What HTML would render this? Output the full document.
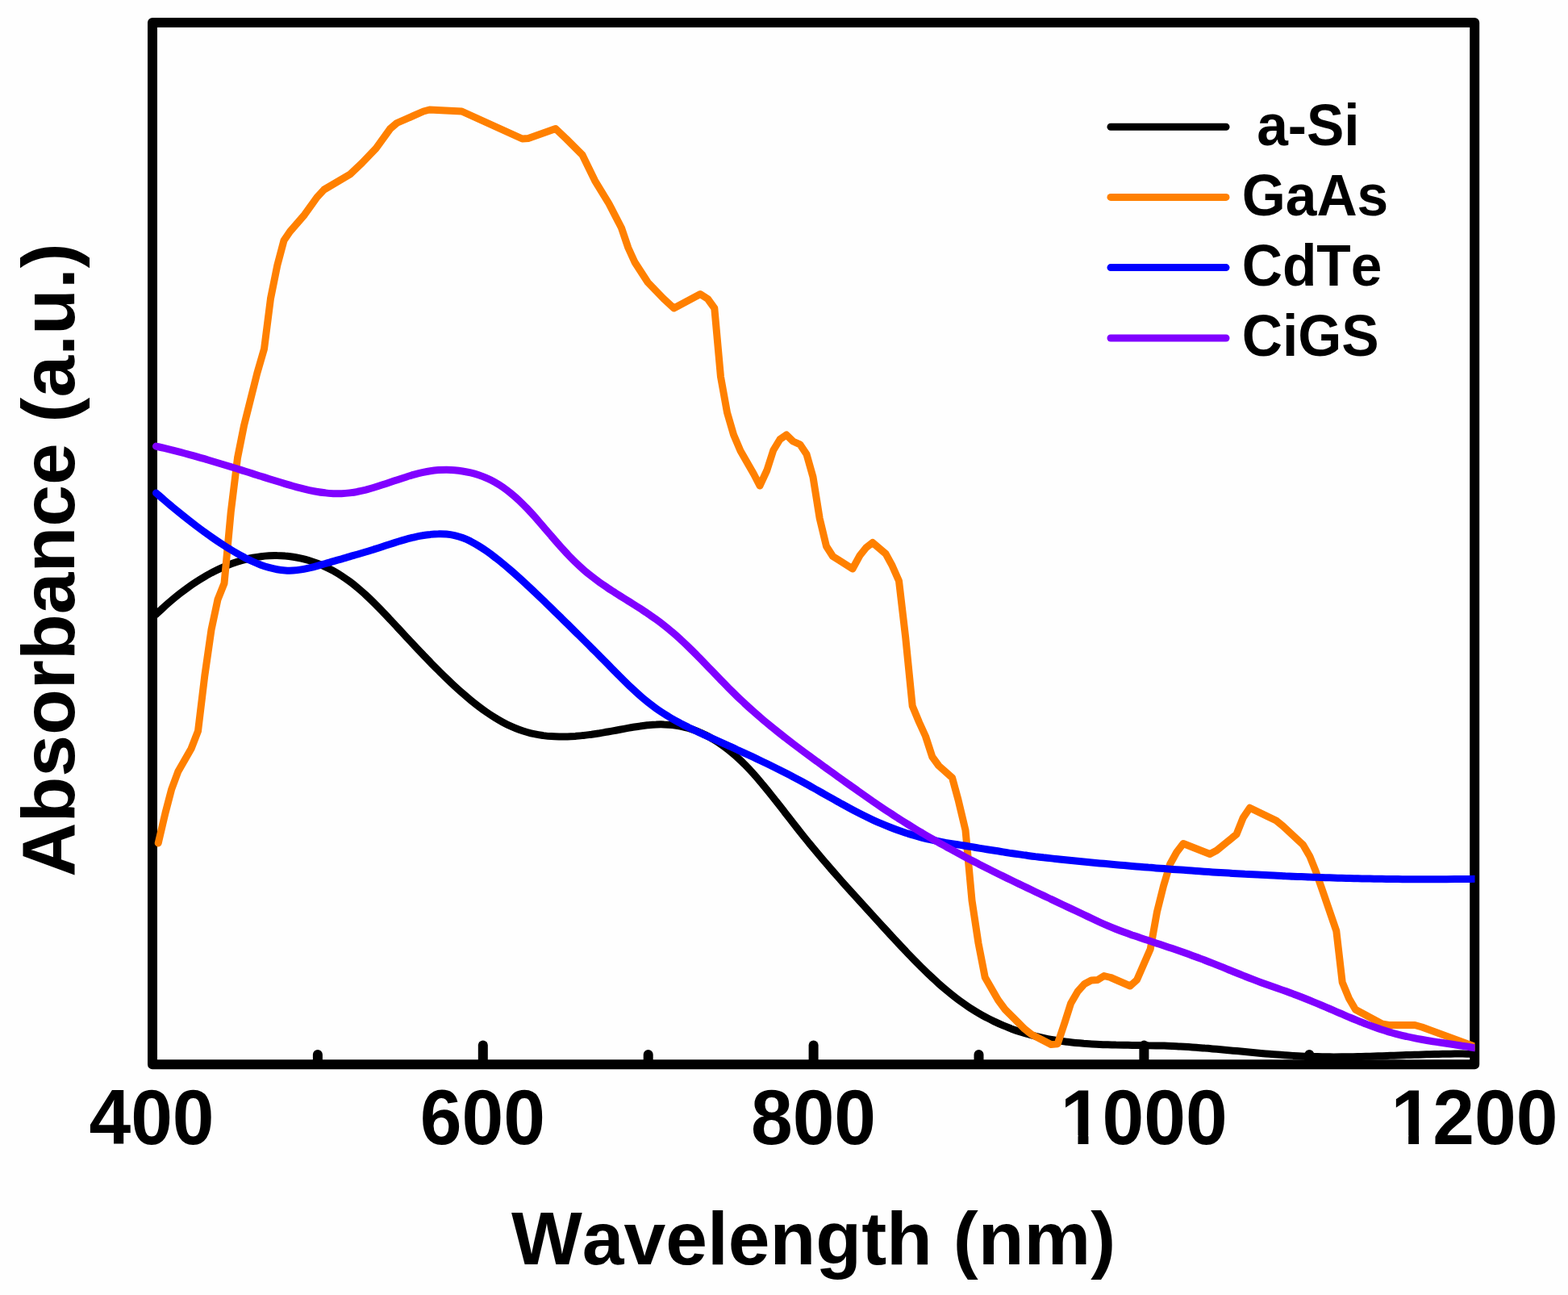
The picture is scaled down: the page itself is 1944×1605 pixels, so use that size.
<!DOCTYPE html>
<html lang="en">
<head>
<meta charset="utf-8">
<title>Absorbance vs Wavelength</title>
<style>
html,body{margin:0;padding:0;background:#fefefe;}
body{width:1944px;height:1605px;overflow:hidden;}
svg{display:block;position:absolute;left:0;top:0;}
text{font-family:"Liberation Sans",Arial,Helvetica,sans-serif;font-weight:700;fill:#000;font-kerning:none;}
.tick{font-size:93px;text-anchor:middle;}
.axis{font-size:93px;text-anchor:middle;}
.leg{font-size:69.5px;text-anchor:start;}
.curve{fill:none;stroke-width:9;stroke-linejoin:round;stroke-linecap:round;}
</style>
</head>
<body>
<svg width="1944" height="1605" viewBox="0 0 1944 1605">
<defs><clipPath id="plotclip"><rect x="169" y="28" width="1659.5" height="1291.2"/></clipPath></defs>
<rect x="0" y="0" width="1944" height="1605" fill="#fefefe"/>
<rect x="189" y="28" width="1639.2" height="1291.2" fill="none" stroke="#000" stroke-width="12" stroke-linejoin="round"/>
<g stroke="#000" stroke-width="12" stroke-linecap="round">
<line x1="598.8" y1="1316.2" x2="598.8" y2="1295.5"/>
<line x1="1008.6" y1="1316.2" x2="1008.6" y2="1295.5"/>
<line x1="1418.4" y1="1316.2" x2="1418.4" y2="1295.5"/>
<line x1="393.9" y1="1316.2" x2="393.9" y2="1307"/>
<line x1="803.7" y1="1316.2" x2="803.7" y2="1307"/>
<line x1="1213.5" y1="1316.2" x2="1213.5" y2="1307"/>
<line x1="1623.3" y1="1316.2" x2="1623.3" y2="1307"/>
</g>
<g clip-path="url(#plotclip)">
<path class="curve" stroke="#000000" d="M193.5 761.4 C195.2 759.8 200.2 755.1 203.5 752.1 C206.8 749.1 210.2 746.2 213.5 743.4 C216.8 740.6 220.2 737.9 223.5 735.3 C226.8 732.7 230.2 730.2 233.5 727.8 C236.8 725.4 240.2 723.1 243.5 721 C246.8 718.8 250.2 716.7 253.5 714.8 C256.8 712.8 260.2 711 263.5 709.2 C266.8 707.5 270.2 705.8 273.5 704.3 C276.8 702.8 280.2 701.4 283.5 700.1 C286.8 698.8 290.2 697.6 293.5 696.5 C296.8 695.4 300.2 694.4 303.5 693.6 C306.8 692.7 310.2 691.9 313.5 691.3 C316.8 690.7 320.2 690.1 323.5 689.7 C326.8 689.3 330.2 689 333.5 688.8 C336.8 688.6 340.2 688.5 343.5 688.6 C346.8 688.6 350.2 688.8 353.5 689.1 C356.8 689.3 360.2 689.7 363.5 690.2 C366.8 690.7 370.2 691.4 373.5 692.1 C376.8 692.9 380.2 693.8 383.5 694.8 C386.8 695.8 390.2 697 393.5 698.3 C396.8 699.6 400.2 701 403.5 702.6 C406.8 704.1 410.2 705.8 413.5 707.7 C416.8 709.6 420.2 711.6 423.5 713.7 C426.8 715.9 430.2 718.2 433.5 720.7 C436.8 723.2 440.2 725.8 443.5 728.6 C446.8 731.4 450.2 734.3 453.5 737.4 C456.8 740.5 460.2 743.7 463.5 747 C466.8 750.3 470.2 753.7 473.5 757.1 C476.8 760.6 480.2 764.1 483.5 767.7 C486.8 771.2 490.2 774.8 493.5 778.4 C496.8 782 500.2 785.6 503.5 789.2 C506.8 792.7 510.2 796.3 513.5 799.8 C516.8 803.4 520.2 806.9 523.5 810.4 C526.8 813.9 530.2 817.4 533.5 820.8 C536.8 824.2 540.2 827.6 543.5 830.9 C546.8 834.3 550.2 837.6 553.5 840.8 C556.8 844 560.2 847.1 563.5 850.2 C566.8 853.3 570.2 856.3 573.5 859.2 C576.8 862.1 580.2 865 583.5 867.7 C586.8 870.4 590.2 873.1 593.5 875.6 C596.8 878.1 600.2 880.6 603.5 882.9 C606.8 885.2 610.2 887.4 613.5 889.4 C616.8 891.5 620.2 893.4 623.5 895.2 C626.8 897 630.2 898.7 633.5 900.2 C636.8 901.7 640.2 903.1 643.5 904.3 C646.8 905.5 650.2 906.6 653.5 907.5 C656.8 908.5 660.2 909.3 663.5 909.9 C666.8 910.6 670.2 911.1 673.5 911.6 C676.8 912 680.2 912.4 683.5 912.6 C686.8 912.8 690.2 912.9 693.5 913 C696.8 913.1 700.2 913 703.5 912.9 C706.8 912.8 710.2 912.6 713.5 912.4 C716.8 912.1 720.2 911.8 723.5 911.4 C726.8 911.1 730.2 910.6 733.5 910.2 C736.8 909.7 740.2 909.2 743.5 908.7 C746.8 908.1 750.2 907.6 753.5 907 C756.8 906.4 760.2 905.8 763.5 905.2 C766.8 904.6 770.2 903.9 773.5 903.3 C776.8 902.7 780.2 902.1 783.5 901.5 C786.8 901 790.2 900.4 793.5 900 C796.8 899.5 800.2 899.1 803.5 898.7 C806.8 898.4 810.2 898.1 813.5 898 C816.8 897.8 820.2 897.8 823.5 897.9 C826.8 897.9 830.2 898.1 833.5 898.5 C836.8 898.9 840.2 899.4 843.5 900 C846.8 900.7 850.2 901.5 853.5 902.5 C856.8 903.5 860.2 904.6 863.5 905.9 C866.8 907.3 870.2 908.7 873.5 910.4 C876.8 912 880.2 913.8 883.5 915.8 C886.8 917.7 890.2 919.9 893.5 922.2 C896.8 924.5 900.2 927 903.5 929.6 C906.8 932.3 910.2 935.1 913.5 938.1 C916.8 941.2 920.2 944.3 923.5 947.7 C926.8 951.1 930.2 954.7 933.5 958.3 C936.8 962 940.2 965.9 943.5 969.8 C946.8 973.8 950.2 977.8 953.5 982 C956.8 986.1 960.2 990.3 963.5 994.6 C966.8 998.8 970.2 1003.1 973.5 1007.4 C976.8 1011.7 980.2 1016 983.5 1020.3 C986.8 1024.5 990.2 1028.8 993.5 1033 C996.8 1037.2 1000.2 1041.3 1003.5 1045.4 C1006.8 1049.4 1010.2 1053.4 1013.5 1057.4 C1016.8 1061.4 1020.2 1065.3 1023.5 1069.2 C1026.8 1073.1 1030.2 1076.9 1033.5 1080.7 C1036.8 1084.5 1040.2 1088.3 1043.5 1092.1 C1046.8 1095.8 1050.2 1099.5 1053.5 1103.2 C1056.8 1106.9 1060.2 1110.6 1063.5 1114.3 C1066.8 1118 1070.2 1121.6 1073.5 1125.3 C1076.8 1128.9 1080.2 1132.6 1083.5 1136.2 C1086.8 1139.9 1090.2 1143.5 1093.5 1147.2 C1096.8 1150.8 1100.2 1154.5 1103.5 1158.1 C1106.8 1161.7 1110.2 1165.3 1113.5 1168.9 C1116.8 1172.5 1120.2 1176 1123.5 1179.5 C1126.8 1183 1130.2 1186.5 1133.5 1189.9 C1136.8 1193.3 1140.2 1196.6 1143.5 1199.9 C1146.8 1203.2 1150.2 1206.4 1153.5 1209.6 C1156.8 1212.7 1160.2 1215.8 1163.5 1218.8 C1166.8 1221.7 1170.2 1224.6 1173.5 1227.4 C1176.8 1230.2 1180.2 1232.9 1183.5 1235.5 C1186.8 1238.1 1190.2 1240.6 1193.5 1242.9 C1196.8 1245.3 1200.2 1247.5 1203.5 1249.7 C1206.8 1251.8 1210.2 1253.9 1213.5 1255.8 C1216.8 1257.8 1220.2 1259.6 1223.5 1261.4 C1226.8 1263.2 1230.2 1264.8 1233.5 1266.4 C1236.8 1268 1240.2 1269.5 1243.5 1270.9 C1246.8 1272.3 1250.2 1273.6 1253.5 1274.9 C1256.8 1276.1 1260.2 1277.3 1263.5 1278.4 C1266.8 1279.5 1270.2 1280.5 1273.5 1281.5 C1276.8 1282.4 1280.2 1283.3 1283.5 1284.1 C1286.8 1284.9 1290.2 1285.7 1293.5 1286.4 C1296.8 1287.1 1300.2 1287.8 1303.5 1288.4 C1306.8 1289 1310.2 1289.5 1313.5 1290 C1316.8 1290.5 1320.2 1290.9 1323.5 1291.3 C1326.8 1291.7 1330.2 1292.1 1333.5 1292.4 C1336.8 1292.7 1340.2 1293 1343.5 1293.3 C1346.8 1293.5 1350.2 1293.8 1353.5 1293.9 C1356.8 1294.1 1360.2 1294.3 1363.5 1294.4 C1366.8 1294.6 1370.2 1294.7 1373.5 1294.8 C1376.8 1294.9 1380.2 1295 1383.5 1295.1 C1386.8 1295.1 1390.2 1295.2 1393.5 1295.3 C1396.8 1295.3 1400.2 1295.4 1403.5 1295.4 C1406.8 1295.5 1410.2 1295.5 1413.5 1295.5 C1416.8 1295.6 1420.2 1295.6 1423.5 1295.7 C1426.8 1295.7 1430.2 1295.8 1433.5 1295.9 C1436.8 1296 1440.2 1296 1443.5 1296.1 C1446.8 1296.3 1450.2 1296.4 1453.5 1296.5 C1456.8 1296.7 1460.2 1296.8 1463.5 1297 C1466.8 1297.2 1470.2 1297.4 1473.5 1297.6 C1476.8 1297.8 1480.2 1298.1 1483.5 1298.3 C1486.8 1298.6 1490.2 1298.8 1493.5 1299.1 C1496.8 1299.3 1500.2 1299.6 1503.5 1299.9 C1506.8 1300.2 1510.2 1300.5 1513.5 1300.8 C1516.8 1301.1 1520.2 1301.4 1523.5 1301.7 C1526.8 1302 1530.2 1302.3 1533.5 1302.6 C1536.8 1302.9 1540.2 1303.3 1543.5 1303.6 C1546.8 1303.9 1550.2 1304.2 1553.5 1304.5 C1556.8 1304.8 1560.2 1305.1 1563.5 1305.4 C1566.8 1305.7 1570.2 1306 1573.5 1306.2 C1576.8 1306.5 1580.2 1306.8 1583.5 1307 C1586.8 1307.3 1590.2 1307.5 1593.5 1307.7 C1596.8 1308 1600.2 1308.2 1603.5 1308.4 C1606.8 1308.6 1610.2 1308.8 1613.5 1308.9 C1616.8 1309.1 1620.2 1309.2 1623.5 1309.3 C1626.8 1309.5 1630.2 1309.5 1633.5 1309.6 C1636.8 1309.7 1640.2 1309.8 1643.5 1309.8 C1646.8 1309.8 1650.2 1309.9 1653.5 1309.9 C1656.8 1309.9 1660.2 1309.9 1663.5 1309.8 C1666.8 1309.8 1670.2 1309.8 1673.5 1309.7 C1676.8 1309.7 1680.2 1309.6 1683.5 1309.5 C1686.8 1309.5 1690.2 1309.4 1693.5 1309.3 C1696.8 1309.2 1700.2 1309.1 1703.5 1309 C1706.8 1308.9 1710.2 1308.8 1713.5 1308.7 C1716.8 1308.6 1720.2 1308.5 1723.5 1308.3 C1726.8 1308.2 1730.2 1308.1 1733.5 1308 C1736.8 1307.9 1740.2 1307.8 1743.5 1307.6 C1746.8 1307.5 1750.2 1307.4 1753.5 1307.3 C1756.8 1307.2 1760.2 1307.1 1763.5 1307 C1766.8 1306.9 1770.2 1306.8 1773.5 1306.7 C1776.8 1306.6 1780.2 1306.5 1783.5 1306.4 C1786.8 1306.4 1790.2 1306.3 1793.5 1306.3 C1796.8 1306.2 1800.2 1306.2 1803.5 1306.1 C1806.8 1306.1 1810.2 1306.1 1813.5 1306.1 C1816.8 1306.1 1820.2 1306.2 1823.5 1306.2 C1826.8 1306.2 1831.8 1306.3 1833.5 1306.4"/>
<path class="curve" stroke="#ff8000" stroke-linecap="round" d="M196.2 1045 L205 1007.5 L212.5 978.8 L220.8 956.2 L237 928 L245.5 906.2 L253.8 837.5 L262 780.5 L270 743 L278 723 L286.2 635 L294.5 567.5 L302.5 527.5 L318.8 462.5 L327.5 432.5 L335.5 370 L343.8 328.8 L352 298 L359.5 287 L377.5 266.2 L393 244.5 L401.8 235 L433.8 216.2 L448.8 202 L466.2 183.8 L483.8 159.5 L492 152.5 L525 138 L532.5 136 L572.5 138 L647.5 172 L655 171.5 L688.8 159.5 L702.5 172.5 L722 192 L737.5 223.8 L755 252.5 L770.5 282.5 L778.8 307 L787 325 L803.2 350 L822.5 370 L835.5 382 L868.2 364.5 L877.5 370.5 L885.8 382 L893.5 467 L901.5 511.2 L909.5 538.8 L918 558.8 L934.5 587.5 L942 602 L950.8 583 L958.8 558 L967 544.5 L975 539 L983.2 547 L991.8 550.8 L1000 563 L1008 591.2 L1016.2 642.5 L1024.5 677 L1032.5 689.5 L1040.5 694.5 L1057 705 L1065.8 688.8 L1073.8 678.8 L1081.8 672.5 L1098 686.2 L1106.2 701.2 L1114.5 720 L1122.7 790 L1131.2 875 L1139.5 895 L1147.5 912.5 L1155.8 938 L1163.8 949 L1180.5 963.8 L1188 991.2 L1197 1029 L1205 1116 L1213 1169 L1221.2 1211.2 L1237.5 1239.5 L1246.2 1251.2 L1262.5 1267.5 L1270 1275 L1278.8 1282 L1303 1294.5 L1311.2 1293.8 L1320 1267.5 L1327.5 1243.8 L1336.2 1228.8 L1344.5 1219.5 L1353 1215 L1360.8 1214.5 L1368.8 1209.5 L1377 1211.5 L1401.2 1222 L1409.5 1214.5 L1426.2 1176.2 L1434.5 1130 L1442.5 1098 L1450.5 1071.2 L1458.8 1056.2 L1467 1045.5 L1500 1058.5 L1508.5 1054 L1533 1034 L1541.2 1013.5 L1549.5 1001.2 L1582.2 1017 L1590.5 1023.8 L1615.5 1047 L1623.8 1061.2 L1631.8 1081.2 L1640.5 1106.2 L1656.8 1153.8 L1664.2 1217.5 L1672.5 1237.5 L1680.5 1251.2 L1713 1268.8 L1721.8 1270.5 L1754.2 1270.5 L1763 1273 L1830 1297.7"/>
<path class="curve" stroke="#0000ff" d="M193.5 611 C195.2 612.4 200.2 616.8 203.5 619.6 C206.8 622.5 210.2 625.3 213.5 628.1 C216.8 630.9 220.2 633.6 223.5 636.3 C226.8 639 230.2 641.7 233.5 644.3 C236.8 646.9 240.2 649.5 243.5 652 C246.8 654.5 250.2 657 253.5 659.4 C256.8 661.8 260.2 664.2 263.5 666.5 C266.8 668.8 270.2 671.1 273.5 673.3 C276.8 675.4 280.2 677.6 283.5 679.7 C286.8 681.7 290.2 683.8 293.5 685.7 C296.8 687.6 300.2 689.4 303.5 691.2 C306.8 692.9 310.2 694.5 313.5 696 C316.8 697.5 320.2 698.9 323.5 700.2 C326.8 701.4 330.2 702.5 333.5 703.4 C336.8 704.3 340.2 705.1 343.5 705.7 C346.8 706.3 350.2 706.7 353.5 706.9 C356.8 707.2 360.2 707.2 363.5 707 C366.8 706.8 370.2 706.4 373.5 705.9 C376.8 705.4 380.2 704.6 383.5 703.9 C386.8 703.1 390.2 702.2 393.5 701.3 C396.8 700.4 400.2 699.4 403.5 698.5 C406.8 697.5 410.2 696.6 413.5 695.6 C416.8 694.7 420.2 693.7 423.5 692.8 C426.8 691.8 430.2 690.9 433.5 689.9 C436.8 688.9 440.2 688 443.5 687 C446.8 686 450.2 685 453.5 684 C456.8 683 460.2 682 463.5 680.9 C466.8 679.9 470.2 678.8 473.5 677.7 C476.8 676.6 480.2 675.5 483.5 674.4 C486.8 673.4 490.2 672.3 493.5 671.3 C496.8 670.2 500.2 669.2 503.5 668.3 C506.8 667.4 510.2 666.6 513.5 665.8 C516.8 665 520.2 664.3 523.5 663.8 C526.8 663.2 530.2 662.7 533.5 662.4 C536.8 662 540.2 661.8 543.5 661.8 C546.8 661.7 550.2 661.8 553.5 662.1 C556.8 662.4 560.2 662.9 563.5 663.6 C566.8 664.4 570.2 665.4 573.5 666.6 C576.8 667.8 580.2 669.3 583.5 670.9 C586.8 672.6 590.2 674.5 593.5 676.6 C596.8 678.6 600.2 680.8 603.5 683.2 C606.8 685.5 610.2 688 613.5 690.6 C616.8 693.2 620.2 695.8 623.5 698.6 C626.8 701.3 630.2 704.2 633.5 707 C636.8 709.9 640.2 712.9 643.5 715.9 C646.8 718.9 650.2 722 653.5 725.1 C656.8 728.2 660.2 731.3 663.5 734.5 C666.8 737.7 670.2 740.9 673.5 744.1 C676.8 747.3 680.2 750.5 683.5 753.8 C686.8 757 690.2 760.3 693.5 763.5 C696.8 766.8 700.2 770 703.5 773.3 C706.8 776.6 710.2 779.9 713.5 783.2 C716.8 786.5 720.2 789.8 723.5 793.1 C726.8 796.4 730.2 799.7 733.5 803.1 C736.8 806.4 740.2 809.7 743.5 813.1 C746.8 816.5 750.2 819.8 753.5 823.2 C756.8 826.6 760.2 830 763.5 833.4 C766.8 836.7 770.2 840.1 773.5 843.4 C776.8 846.7 780.2 849.9 783.5 853.1 C786.8 856.2 790.2 859.3 793.5 862.2 C796.8 865.1 800.2 867.9 803.5 870.6 C806.8 873.2 810.2 875.7 813.5 878.1 C816.8 880.4 820.2 882.7 823.5 884.8 C826.8 886.9 830.2 888.9 833.5 890.9 C836.8 892.8 840.2 894.6 843.5 896.4 C846.8 898.2 850.2 899.8 853.5 901.5 C856.8 903.1 860.2 904.7 863.5 906.3 C866.8 907.8 870.2 909.3 873.5 910.9 C876.8 912.4 880.2 913.9 883.5 915.4 C886.8 916.9 890.2 918.4 893.5 919.9 C896.8 921.4 900.2 922.9 903.5 924.4 C906.8 925.9 910.2 927.4 913.5 929 C916.8 930.5 920.2 932 923.5 933.6 C926.8 935.1 930.2 936.7 933.5 938.2 C936.8 939.8 940.2 941.4 943.5 943 C946.8 944.5 950.2 946.2 953.5 947.8 C956.8 949.4 960.2 951.1 963.5 952.7 C966.8 954.4 970.2 956.1 973.5 957.8 C976.8 959.5 980.2 961.2 983.5 963 C986.8 964.7 990.2 966.5 993.5 968.3 C996.8 970.1 1000.2 972 1003.5 973.8 C1006.8 975.7 1010.2 977.5 1013.5 979.4 C1016.8 981.3 1020.2 983.2 1023.5 985.1 C1026.8 986.9 1030.2 988.8 1033.5 990.7 C1036.8 992.6 1040.2 994.4 1043.5 996.3 C1046.8 998.1 1050.2 999.9 1053.5 1001.7 C1056.8 1003.5 1060.2 1005.3 1063.5 1007 C1066.8 1008.7 1070.2 1010.4 1073.5 1012 C1076.8 1013.7 1080.2 1015.3 1083.5 1016.8 C1086.8 1018.3 1090.2 1019.8 1093.5 1021.2 C1096.8 1022.6 1100.2 1024 1103.5 1025.3 C1106.8 1026.6 1110.2 1027.9 1113.5 1029.1 C1116.8 1030.2 1120.2 1031.4 1123.5 1032.5 C1126.8 1033.5 1130.2 1034.6 1133.5 1035.5 C1136.8 1036.5 1140.2 1037.4 1143.5 1038.3 C1146.8 1039.1 1150.2 1039.9 1153.5 1040.7 C1156.8 1041.4 1160.2 1042.1 1163.5 1042.7 C1166.8 1043.4 1170.2 1044 1173.5 1044.6 C1176.8 1045.1 1180.2 1045.7 1183.5 1046.2 C1186.8 1046.8 1190.2 1047.3 1193.5 1047.8 C1196.8 1048.4 1200.2 1048.9 1203.5 1049.4 C1206.8 1050 1210.2 1050.5 1213.5 1051.1 C1216.8 1051.6 1220.2 1052.2 1223.5 1052.7 C1226.8 1053.2 1230.2 1053.8 1233.5 1054.3 C1236.8 1054.9 1240.2 1055.4 1243.5 1055.9 C1246.8 1056.5 1250.2 1057 1253.5 1057.5 C1256.8 1058 1260.2 1058.5 1263.5 1058.9 C1266.8 1059.4 1270.2 1059.8 1273.5 1060.3 C1276.8 1060.7 1280.2 1061.1 1283.5 1061.6 C1286.8 1062 1290.2 1062.4 1293.5 1062.8 C1296.8 1063.1 1300.2 1063.5 1303.5 1063.9 C1306.8 1064.3 1310.2 1064.6 1313.5 1065 C1316.8 1065.3 1320.2 1065.7 1323.5 1066 C1326.8 1066.3 1330.2 1066.7 1333.5 1067 C1336.8 1067.3 1340.2 1067.7 1343.5 1068 C1346.8 1068.3 1350.2 1068.6 1353.5 1068.9 C1356.8 1069.2 1360.2 1069.6 1363.5 1069.9 C1366.8 1070.2 1370.2 1070.5 1373.5 1070.8 C1376.8 1071.1 1380.2 1071.4 1383.5 1071.7 C1386.8 1072 1390.2 1072.3 1393.5 1072.5 C1396.8 1072.8 1400.2 1073.1 1403.5 1073.4 C1406.8 1073.7 1410.2 1074 1413.5 1074.2 C1416.8 1074.5 1420.2 1074.8 1423.5 1075.1 C1426.8 1075.3 1430.2 1075.6 1433.5 1075.9 C1436.8 1076.1 1440.2 1076.4 1443.5 1076.6 C1446.8 1076.9 1450.2 1077.1 1453.5 1077.4 C1456.8 1077.6 1460.2 1077.9 1463.5 1078.1 C1466.8 1078.4 1470.2 1078.6 1473.5 1078.8 C1476.8 1079.1 1480.2 1079.3 1483.5 1079.5 C1486.8 1079.8 1490.2 1080 1493.5 1080.2 C1496.8 1080.4 1500.2 1080.7 1503.5 1080.9 C1506.8 1081.1 1510.2 1081.3 1513.5 1081.5 C1516.8 1081.7 1520.2 1081.9 1523.5 1082.1 C1526.8 1082.3 1530.2 1082.5 1533.5 1082.7 C1536.8 1082.9 1540.2 1083.1 1543.5 1083.3 C1546.8 1083.4 1550.2 1083.6 1553.5 1083.8 C1556.8 1084 1560.2 1084.2 1563.5 1084.3 C1566.8 1084.5 1570.2 1084.7 1573.5 1084.8 C1576.8 1085 1580.2 1085.2 1583.5 1085.3 C1586.8 1085.5 1590.2 1085.6 1593.5 1085.8 C1596.8 1085.9 1600.2 1086.1 1603.5 1086.2 C1606.8 1086.3 1610.2 1086.5 1613.5 1086.6 C1616.8 1086.7 1620.2 1086.9 1623.5 1087 C1626.8 1087.1 1630.2 1087.2 1633.5 1087.3 C1636.8 1087.5 1640.2 1087.6 1643.5 1087.7 C1646.8 1087.8 1650.2 1087.9 1653.5 1088 C1656.8 1088.1 1660.2 1088.2 1663.5 1088.3 C1666.8 1088.4 1670.2 1088.5 1673.5 1088.5 C1676.8 1088.6 1680.2 1088.7 1683.5 1088.8 C1686.8 1088.9 1690.2 1088.9 1693.5 1089 C1696.8 1089.1 1700.2 1089.1 1703.5 1089.2 C1706.8 1089.2 1710.2 1089.3 1713.5 1089.3 C1716.8 1089.4 1720.2 1089.4 1723.5 1089.5 C1726.8 1089.5 1730.2 1089.6 1733.5 1089.6 C1736.8 1089.6 1740.2 1089.7 1743.5 1089.7 C1746.8 1089.7 1750.2 1089.7 1753.5 1089.7 C1756.8 1089.8 1760.2 1089.8 1763.5 1089.8 C1766.8 1089.8 1770.2 1089.8 1773.5 1089.8 C1776.8 1089.8 1780.2 1089.8 1783.5 1089.8 C1786.8 1089.8 1790.2 1089.7 1793.5 1089.7 C1796.8 1089.7 1800.2 1089.7 1803.5 1089.6 C1806.8 1089.6 1810.2 1089.6 1813.5 1089.5 C1816.8 1089.5 1820.2 1089.5 1823.5 1089.4 C1826.8 1089.4 1831.8 1089.3 1833.5 1089.3"/>
<path class="curve" stroke="#8000ff" d="M193.5 553.1 C195.2 553.5 200.2 554.6 203.5 555.4 C206.8 556.2 210.2 557 213.5 557.8 C216.8 558.7 220.2 559.5 223.5 560.4 C226.8 561.3 230.2 562.2 233.5 563.1 C236.8 564 240.2 564.9 243.5 565.9 C246.8 566.8 250.2 567.8 253.5 568.7 C256.8 569.7 260.2 570.7 263.5 571.7 C266.8 572.7 270.2 573.7 273.5 574.7 C276.8 575.7 280.2 576.7 283.5 577.7 C286.8 578.8 290.2 579.8 293.5 580.8 C296.8 581.9 300.2 582.9 303.5 584 C306.8 585 310.2 586.1 313.5 587.1 C316.8 588.2 320.2 589.2 323.5 590.3 C326.8 591.3 330.2 592.3 333.5 593.4 C336.8 594.4 340.2 595.5 343.5 596.5 C346.8 597.5 350.2 598.6 353.5 599.6 C356.8 600.6 360.2 601.6 363.5 602.5 C366.8 603.5 370.2 604.4 373.5 605.2 C376.8 606.1 380.2 606.9 383.5 607.6 C386.8 608.3 390.2 609 393.5 609.5 C396.8 610.1 400.2 610.5 403.5 610.9 C406.8 611.3 410.2 611.5 413.5 611.7 C416.8 611.8 420.2 611.8 423.5 611.7 C426.8 611.6 430.2 611.3 433.5 610.9 C436.8 610.5 440.2 610 443.5 609.3 C446.8 608.7 450.2 607.9 453.5 607.1 C456.8 606.2 460.2 605.3 463.5 604.3 C466.8 603.3 470.2 602.2 473.5 601.1 C476.8 600 480.2 598.9 483.5 597.8 C486.8 596.7 490.2 595.5 493.5 594.4 C496.8 593.3 500.2 592.2 503.5 591.2 C506.8 590.1 510.2 589.1 513.5 588.2 C516.8 587.3 520.2 586.4 523.5 585.7 C526.8 585 530.2 584.3 533.5 583.8 C536.8 583.3 540.2 582.9 543.5 582.6 C546.8 582.4 550.2 582.3 553.5 582.3 C556.8 582.4 560.2 582.5 563.5 582.8 C566.8 583.1 570.2 583.5 573.5 584 C576.8 584.5 580.2 585.1 583.5 585.9 C586.8 586.7 590.2 587.7 593.5 588.8 C596.8 589.9 600.2 591.2 603.5 592.7 C606.8 594.1 610.2 595.8 613.5 597.7 C616.8 599.6 620.2 601.6 623.5 603.9 C626.8 606.2 630.2 608.8 633.5 611.5 C636.8 614.2 640.2 617.1 643.5 620.2 C646.8 623.4 650.2 626.7 653.5 630.2 C656.8 633.7 660.2 637.4 663.5 641.1 C666.8 644.9 670.2 648.8 673.5 652.6 C676.8 656.5 680.2 660.4 683.5 664.2 C686.8 668.1 690.2 672 693.5 675.7 C696.8 679.4 700.2 683.1 703.5 686.7 C706.8 690.2 710.2 693.6 713.5 696.9 C716.8 700.1 720.2 703.2 723.5 706.1 C726.8 709 730.2 711.7 733.5 714.3 C736.8 716.9 740.2 719.4 743.5 721.8 C746.8 724.2 750.2 726.4 753.5 728.7 C756.8 730.9 760.2 733 763.5 735.2 C766.8 737.3 770.2 739.4 773.5 741.5 C776.8 743.6 780.2 745.6 783.5 747.7 C786.8 749.8 790.2 751.9 793.5 754.1 C796.8 756.3 800.2 758.4 803.5 760.7 C806.8 763 810.2 765.3 813.5 767.7 C816.8 770.1 820.2 772.6 823.5 775.2 C826.8 777.8 830.2 780.5 833.5 783.4 C836.8 786.2 840.2 789.2 843.5 792.3 C846.8 795.4 850.2 798.5 853.5 801.8 C856.8 805 860.2 808.3 863.5 811.7 C866.8 815 870.2 818.5 873.5 821.9 C876.8 825.3 880.2 828.8 883.5 832.2 C886.8 835.7 890.2 839.1 893.5 842.6 C896.8 846 900.2 849.4 903.5 852.8 C906.8 856.1 910.2 859.4 913.5 862.7 C916.8 865.9 920.2 869 923.5 872.1 C926.8 875.2 930.2 878.3 933.5 881.2 C936.8 884.2 940.2 887.1 943.5 889.9 C946.8 892.8 950.2 895.6 953.5 898.3 C956.8 901.1 960.2 903.8 963.5 906.4 C966.8 909.1 970.2 911.7 973.5 914.3 C976.8 916.9 980.2 919.5 983.5 922 C986.8 924.5 990.2 927 993.5 929.5 C996.8 932 1000.2 934.5 1003.5 936.9 C1006.8 939.4 1010.2 941.8 1013.5 944.2 C1016.8 946.7 1020.2 949.1 1023.5 951.5 C1026.8 953.9 1030.2 956.3 1033.5 958.7 C1036.8 961.1 1040.2 963.5 1043.5 965.9 C1046.8 968.3 1050.2 970.6 1053.5 973 C1056.8 975.4 1060.2 977.7 1063.5 980.1 C1066.8 982.4 1070.2 984.8 1073.5 987.1 C1076.8 989.5 1080.2 991.8 1083.5 994.1 C1086.8 996.4 1090.2 998.7 1093.5 1000.9 C1096.8 1003.2 1100.2 1005.4 1103.5 1007.6 C1106.8 1009.8 1110.2 1011.9 1113.5 1014.1 C1116.8 1016.2 1120.2 1018.3 1123.5 1020.4 C1126.8 1022.5 1130.2 1024.5 1133.5 1026.5 C1136.8 1028.6 1140.2 1030.6 1143.5 1032.5 C1146.8 1034.5 1150.2 1036.5 1153.5 1038.4 C1156.8 1040.3 1160.2 1042.2 1163.5 1044.1 C1166.8 1046 1170.2 1047.8 1173.5 1049.7 C1176.8 1051.5 1180.2 1053.3 1183.5 1055.1 C1186.8 1056.9 1190.2 1058.7 1193.5 1060.5 C1196.8 1062.3 1200.2 1064 1203.5 1065.7 C1206.8 1067.5 1210.2 1069.2 1213.5 1070.9 C1216.8 1072.6 1220.2 1074.3 1223.5 1076 C1226.8 1077.7 1230.2 1079.3 1233.5 1081 C1236.8 1082.6 1240.2 1084.3 1243.5 1085.9 C1246.8 1087.5 1250.2 1089.2 1253.5 1090.8 C1256.8 1092.4 1260.2 1094 1263.5 1095.6 C1266.8 1097.2 1270.2 1098.8 1273.5 1100.4 C1276.8 1102 1280.2 1103.6 1283.5 1105.2 C1286.8 1106.7 1290.2 1108.3 1293.5 1109.9 C1296.8 1111.5 1300.2 1113 1303.5 1114.6 C1306.8 1116.2 1310.2 1117.8 1313.5 1119.3 C1316.8 1120.9 1320.2 1122.5 1323.5 1124.1 C1326.8 1125.6 1330.2 1127.2 1333.5 1128.8 C1336.8 1130.4 1340.2 1132 1343.5 1133.5 C1346.8 1135.1 1350.2 1136.7 1353.5 1138.3 C1356.8 1139.9 1360.2 1141.5 1363.5 1143 C1366.8 1144.5 1370.2 1146 1373.5 1147.4 C1376.8 1148.8 1380.2 1150.2 1383.5 1151.5 C1386.8 1152.8 1390.2 1154.1 1393.5 1155.3 C1396.8 1156.5 1400.2 1157.7 1403.5 1158.9 C1406.8 1160 1410.2 1161.1 1413.5 1162.3 C1416.8 1163.4 1420.2 1164.5 1423.5 1165.6 C1426.8 1166.7 1430.2 1167.8 1433.5 1168.9 C1436.8 1170 1440.2 1171.1 1443.5 1172.2 C1446.8 1173.3 1450.2 1174.5 1453.5 1175.6 C1456.8 1176.7 1460.2 1177.9 1463.5 1179 C1466.8 1180.2 1470.2 1181.4 1473.5 1182.6 C1476.8 1183.8 1480.2 1185 1483.5 1186.2 C1486.8 1187.5 1490.2 1188.7 1493.5 1190 C1496.8 1191.3 1500.2 1192.6 1503.5 1193.9 C1506.8 1195.2 1510.2 1196.6 1513.5 1197.9 C1516.8 1199.3 1520.2 1200.6 1523.5 1202 C1526.8 1203.3 1530.2 1204.7 1533.5 1206 C1536.8 1207.4 1540.2 1208.7 1543.5 1210 C1546.8 1211.3 1550.2 1212.6 1553.5 1213.9 C1556.8 1215.2 1560.2 1216.5 1563.5 1217.7 C1566.8 1218.9 1570.2 1220.1 1573.5 1221.3 C1576.8 1222.4 1580.2 1223.6 1583.5 1224.7 C1586.8 1225.9 1590.2 1227.1 1593.5 1228.2 C1596.8 1229.4 1600.2 1230.6 1603.5 1231.9 C1606.8 1233.1 1610.2 1234.4 1613.5 1235.7 C1616.8 1237 1620.2 1238.4 1623.5 1239.7 C1626.8 1241.1 1630.2 1242.5 1633.5 1243.9 C1636.8 1245.3 1640.2 1246.7 1643.5 1248.1 C1646.8 1249.5 1650.2 1251 1653.5 1252.4 C1656.8 1253.9 1660.2 1255.3 1663.5 1256.7 C1666.8 1258.2 1670.2 1259.6 1673.5 1261 C1676.8 1262.4 1680.2 1263.8 1683.5 1265.1 C1686.8 1266.5 1690.2 1267.8 1693.5 1269.1 C1696.8 1270.4 1700.2 1271.6 1703.5 1272.8 C1706.8 1274 1710.2 1275.2 1713.5 1276.3 C1716.8 1277.4 1720.2 1278.4 1723.5 1279.4 C1726.8 1280.3 1730.2 1281.3 1733.5 1282.1 C1736.8 1283 1740.2 1283.8 1743.5 1284.5 C1746.8 1285.3 1750.2 1286 1753.5 1286.6 C1756.8 1287.3 1760.2 1287.9 1763.5 1288.5 C1766.8 1289.1 1770.2 1289.7 1773.5 1290.2 C1776.8 1290.8 1780.2 1291.3 1783.5 1291.8 C1786.8 1292.3 1790.2 1292.8 1793.5 1293.3 C1796.8 1293.8 1800.2 1294.3 1803.5 1294.8 C1806.8 1295.3 1810.2 1295.8 1813.5 1296.4 C1816.8 1296.9 1820.2 1297.4 1823.5 1298 C1826.8 1298.6 1831.8 1299.5 1833.5 1299.8"/>
</g>
<g stroke-width="9" stroke-linecap="round" fill="none">
<line x1="1377" y1="157.3" x2="1520" y2="157.3" stroke="#000000"/>
<line x1="1377" y1="244.4" x2="1520" y2="244.4" stroke="#ff8000"/>
<line x1="1377" y1="331.6" x2="1520" y2="331.6" stroke="#0000ff"/>
<line x1="1377" y1="419" x2="1520" y2="419" stroke="#8000ff"/>
</g>
<text class="leg" transform="translate(1558.2 179.5) scale(1 1.03)">a-Si</text>
<text class="leg" transform="translate(1539.7 266.5) scale(1 1.03)">GaAs</text>
<text class="leg" transform="translate(1539.7 353.5) scale(1 1.03)">CdTe</text>
<text class="leg" transform="translate(1539.7 441) scale(1 1.03)">CiGS</text>
<text class="tick" transform="translate(188 1417.5) scale(1 1.04)">400</text>
<text class="tick" transform="translate(598.4 1417.5) scale(1 1.04)">600</text>
<text class="tick" transform="translate(1008.5 1417.5) scale(1 1.04)">800</text>
<text class="tick" transform="translate(1418.3 1417.5) scale(1 1.04)">1000</text>
<text class="tick" transform="translate(1828 1417.5) scale(1 1.04)">1200</text>
<rect x="1316.9" y="1407.1" width="19.6" height="13" fill="#fefefe"/>
<rect x="1349.4" y="1407.1" width="18" height="13" fill="#fefefe"/>
<rect x="1726.6" y="1407.1" width="19.6" height="13" fill="#fefefe"/>
<rect x="1759.1" y="1407.1" width="18" height="13" fill="#fefefe"/>
<text class="axis" transform="translate(1008.6 1566.5) scale(1 1.0)">Wavelength (nm)</text>
<text class="axis" transform="translate(91.6 694) rotate(-90) scale(1 1.0)">Absorbance (a.u.)</text>
</svg>
</body>
</html>
